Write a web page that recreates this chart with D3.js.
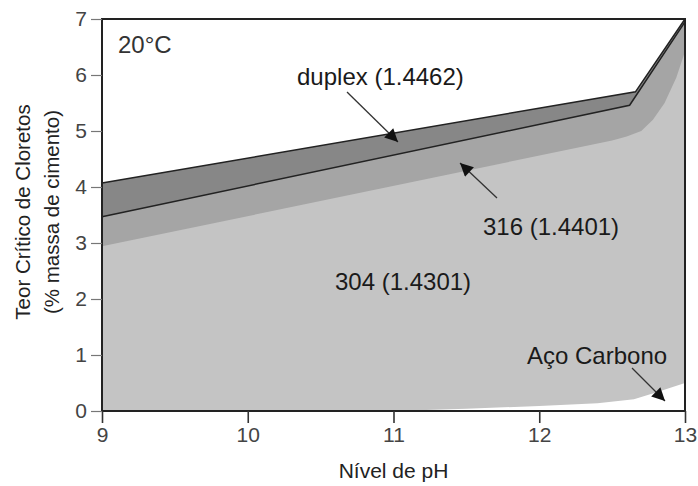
<!DOCTYPE html>
<html>
<head>
<meta charset="utf-8">
<script src="https://cdn.jsdelivr.net/npm/d3@7"></script>
<style>
  body { margin: 0; background: #fff; }
  svg text { font-family: "Liberation Sans", Arial, sans-serif; }
</style>
</head>
<body>
<div id="chart"></div>
<script>
// curves (pH, chloride %)
const duplexPH = [9, 12.66, 13];
const duplexVal = [4.07, 5.70, 7.0];
const s316PH = [9, 12.62, 13];
const s316Val = [3.47, 5.46, 6.95];
const s304PH = [9, 12.5, 12.6, 12.7, 12.78, 12.86, 12.94, 13];
const s304Val = [2.94, 4.83, 4.9, 5.0, 5.2, 5.5, 5.95, 6.42];
const carbonPH = [9, 11.0, 11.5, 12.0, 12.4, 12.65, 12.8, 13];
const carbonVal = [0, 0, 0.04, 0.09, 0.14, 0.21, 0.33, 0.5];
const xTicks = [9, 10, 11, 12, 13];
const yTicks = [0, 1, 2, 3, 4, 5, 6, 7];

const width = 698, height = 486;
const margin = {top: 19, right: 13, bottom: 75, left: 102};

const svg = d3.select("#chart").append("svg")
    .attr("width", width)
    .attr("height", height);

const x = d3.scaleLinear().domain([9, 13]).range([margin.left, width - margin.right]);
const y = d3.scaleLinear().domain([0, 7]).range([height - margin.bottom, margin.top]);

const zip = (a, b) => a.map((d, i) => [d, b[i]]);

const area = d3.area().x(d => x(d[0])).y0(y(0)).y1(d => y(d[1]));
const line = d3.line().x(d => x(d[0])).y(d => y(d[1]));

// bands, painted back to front
svg.append("path").attr("d", area(zip(duplexPH, duplexVal))).attr("fill", "#878787");
svg.append("path").attr("d", area(zip(s316PH, s316Val))).attr("fill", "#a5a5a5");
svg.append("path").attr("d", area(zip(s304PH, s304Val))).attr("fill", "#c4c4c4");
svg.append("path").attr("d", area(zip(carbonPH, carbonVal))).attr("fill", "#fff");

svg.append("path").attr("d", line(zip(duplexPH, duplexVal)))
    .attr("fill", "none").attr("stroke", "#222").attr("stroke-width", 1.5);
svg.append("path").attr("d", line(zip(s316PH, s316Val)))
    .attr("fill", "none").attr("stroke", "#222").attr("stroke-width", 1.5);

// frame
svg.append("rect")
    .attr("x", x(9)).attr("y", y(7))
    .attr("width", x(13) - x(9)).attr("height", y(0) - y(7))
    .attr("fill", "none").attr("stroke", "#222").attr("stroke-width", 2);

// axes
const gx = svg.append("g")
    .attr("transform", `translate(0,${y(0)})`)
    .call(d3.axisBottom(x).tickValues(xTicks).tickSize(12).tickPadding(4).tickFormat(d3.format("d")));
const gy = svg.append("g")
    .attr("transform", `translate(${x(9)},0)`)
    .call(d3.axisLeft(y).tickValues(yTicks).tickSize(11).tickPadding(4).tickFormat(d3.format("d")));
[gx, gy].forEach(g => {
  g.select(".domain").remove();
  g.selectAll(".tick text").attr("fill", "#444").style("font-size", "21px");
});
gx.selectAll(".tick line").attr("stroke", "#333").attr("stroke-width", 1.6);
gy.selectAll(".tick line").attr("stroke", "#777").attr("stroke-width", 1.2);

svg.append("text")
    .attr("x", x(11)).attr("y", 478)
    .attr("text-anchor", "middle").attr("fill", "#222")
    .style("font-size", "21px").text("Nível de pH");

const yt = svg.append("text")
    .attr("transform", `translate(0,212) rotate(-90)`)
    .attr("text-anchor", "middle").attr("fill", "#222").style("font-size", "20.5px");
yt.append("tspan").attr("x", 0).attr("y", 30).text("Teor Crítico de Cloretos");
yt.append("tspan").attr("x", 0).attr("y", 59).text("(% massa de cimento)");

svg.append("text")
    .attr("x", 118).attr("y", 53).attr("fill", "#333")
    .style("font-size", "24px").text("20°C");

// annotations
svg.append("defs").append("marker")
    .attr("id", "arr").attr("viewBox", "0 0 10 10")
    .attr("refX", 10).attr("refY", 5)
    .attr("markerWidth", 18).attr("markerHeight", 13)
    .attr("markerUnits", "userSpaceOnUse")
    .attr("orient", "auto")
  .append("path").attr("d", "M0,0L10,5L0,10Z").attr("fill", "#111");

const labels = [
  {t: "duplex (1.4462)", tx: 297, ty: 85, a: [347, 92, 398, 142]},
  {t: "316 (1.4401)", tx: 483, ty: 235, a: [497, 198, 460, 163]},
  {t: "304 (1.4301)", tx: 335, ty: 290, a: null},
  {t: "Aço Carbono", tx: 527, ty: 364, a: [632, 368, 665, 401]}
];
labels.forEach(l => {
  svg.append("text").attr("x", l.tx).attr("y", l.ty)
      .attr("fill", "#1a1a1a").style("font-size", "24px").text(l.t);
  if (l.a) {
    svg.append("line")
        .attr("x1", l.a[0]).attr("y1", l.a[1]).attr("x2", l.a[2]).attr("y2", l.a[3])
        .attr("stroke", "#333").attr("stroke-width", 1.3)
        .attr("marker-end", "url(#arr)");
  }
});
</script>
</body>
</html>
